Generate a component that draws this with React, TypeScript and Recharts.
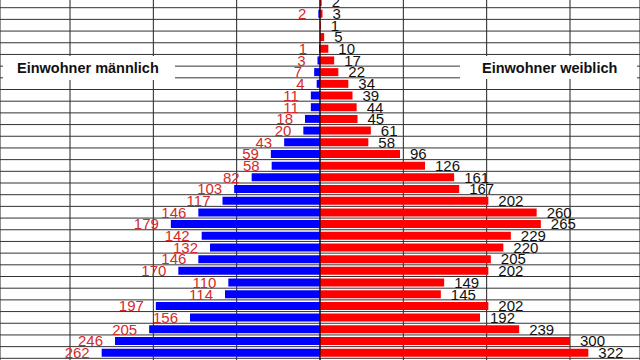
import React from 'react';
import { BarChart, Bar, XAxis, YAxis, CartesianGrid, ReferenceLine, LabelList } from 'recharts';

// Age rows, top (oldest visible) to bottom
const ageRows: string[] = [
  '99', '98', '97', '96', '95', '94', '93', '92', '91', '90', '89', '88', '87', '86', '85', '84',
  '83', '82', '81', '80', '79', '78', '77', '76', '75', '74', '73', '72', '71', '70', '69', '68',
];

const maleValues: number[] = [
  0, 2, 0, 0, 1, 3, 7, 4, 11, 11, 18, 20, 43, 59, 58, 82,
  103, 117, 146, 179, 142, 132, 146, 170, 110, 114, 197, 156, 205, 246, 262, 236,
];

const femaleValues: number[] = [
  2, 3, 1, 5, 10, 17, 22, 34, 39, 44, 45, 61, 58, 96, 126, 161,
  167, 202, 260, 265, 229, 220, 205, 202, 149, 145, 202, 192, 239, 300, 322, 318,
];

const xTicks: number[] = [-300, -200, -100, 0, 100, 200, 300];
const xDomain: [number, number] = [-384, 384];

const maleLabel = 'Einwohner männlich';
const femaleLabel = 'Einwohner weiblich';

const data = ageRows.map((age, i) => ({
  age,
  male: -maleValues[i],
  female: femaleValues[i],
}));

const fmt = (v: any) => {
  const n = Math.abs(Number(v));
  return n === 0 ? '' : String(n);
};

const FONT = '"Liberation Sans", Arial, sans-serif';

const boxStyle: React.CSSProperties = {
  position: 'absolute',
  background: '#ffffff',
  fontFamily: FONT,
  fontWeight: 'bold',
  fontSize: 14.5,
  color: '#111',
  display: 'flex',
  alignItems: 'center',
  boxSizing: 'border-box',
  whiteSpace: 'nowrap',
};

export default function App() {
  const lastAge = ageRows[ageRows.length - 1];
  return (
    <div
      style={{
        position: 'absolute',
        left: 0,
        top: 0,
        width: 640,
        height: 360,
        overflow: 'hidden',
        background: '#fff',
      }}
    >
      <div style={{ position: 'absolute', left: 0, top: -4.5 }}>
        <BarChart
          width={640}
          height={374}
          data={data}
          layout="vertical"
          stackOffset="sign"
          barSize={8}
          margin={{ top: 0, right: 0, bottom: 0, left: 0 }}
          style={{ fontFamily: FONT }}
        >
          <CartesianGrid horizontal={false} vertical={true} stroke="#222" strokeWidth={1} />
          <XAxis type="number" domain={xDomain} ticks={xTicks} allowDataOverflow hide />
          <YAxis type="category" dataKey="age" hide />
          {ageRows.map((age) => (
            <ReferenceLine key={'h' + age} y={age} position="start" stroke="#333" strokeWidth={1} />
          ))}
          <ReferenceLine y={lastAge} position="end" stroke="#333" strokeWidth={1} />
          <Bar dataKey="male" stackId="a" fill="#0000ff" isAnimationActive={false}>
            <LabelList
              dataKey="male"
              position="right"
              offset={12}
              formatter={fmt}
              fill="#d42a2a"
              fontSize={15}
              fontFamily={FONT}
            />
          </Bar>
          <Bar dataKey="female" stackId="a" fill="#ff0000" isAnimationActive={false}>
            <LabelList
              dataKey="female"
              position="right"
              offset={10}
              formatter={fmt}
              fill="#111"
              fontSize={15}
              fontFamily={FONT}
            />
          </Bar>
          <ReferenceLine x={0} stroke="#000" strokeWidth={1} />
        </BarChart>
      </div>
      <div style={{ ...boxStyle, left: 3, top: 56, width: 172, height: 24, paddingLeft: 14 }}>
        {maleLabel}
      </div>
      <div style={{ ...boxStyle, left: 460, top: 56, width: 177, height: 23, paddingLeft: 22 }}>
        {femaleLabel}
      </div>
    </div>
  );
}
